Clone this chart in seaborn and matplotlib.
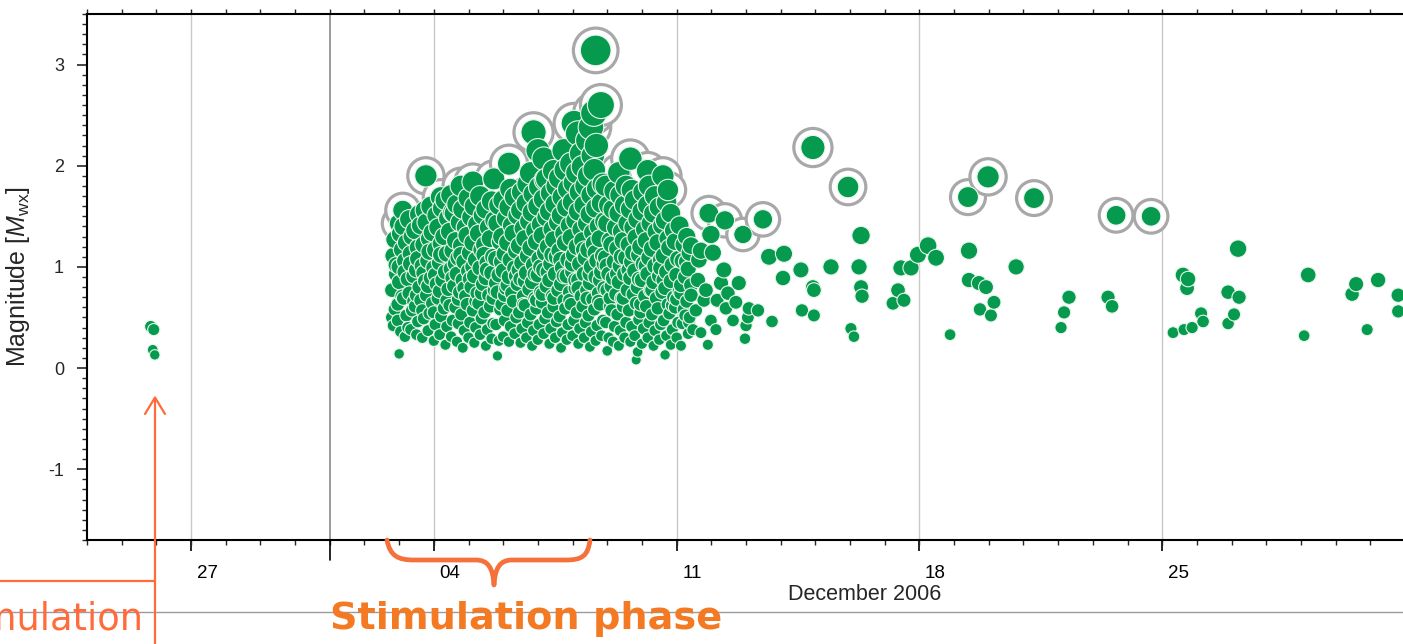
import numpy as np
import pandas as pd
import matplotlib
matplotlib.use("Agg")
import matplotlib.pyplot as plt
import matplotlib.transforms as mtransforms
from matplotlib.path import Path
from matplotlib.patches import PathPatch
from matplotlib.lines import Line2D
from matplotlib.ticker import MultipleLocator, FixedLocator
import seaborn as sns

# ---------------- data (hours since 1 Dec 2006 00:00, magnitude) ----------------
pre_events = [(-123.9, 0.41), (-121.8, 0.38), (-122.5, 0.18), (-121.1, 0.13)]

stim_events = [
    (44,0.42),(45,0.58),(43,0.77),(46,0.93),(44,1.11),(45,1.27),(43,0.50),(46,1.02),
    (48,0.14),(49,0.36),(47,0.63),(48,0.85),(50,1.17),(49,1.33),(47,0.47),(50,0.71),(48,1.00),
    (52,0.31),(53,0.52),(51,0.69),(54,0.88),(52,1.06),(53,1.24),(51,1.40),(54,0.40),(52,0.95),
    (56,0.38),(57,0.57),(55,0.74),(58,0.91),(56,1.13),(57,1.30),(55,1.47),(58,0.66),(56,1.03),
    (60,0.33),(61,0.46),(59,0.61),(62,0.80),(60,0.97),(61,1.19),(59,1.36),(62,1.52),(60,0.72),(61,1.08),
    (64,0.30),(65,0.49),(63,0.67),(66,0.86),(64,1.01),(65,1.22),(63,1.41),(66,1.56),(64,0.57),(65,0.94),
    (68,0.37),(69,0.54),(67,0.72),(70,0.89),(68,1.06),(69,1.28),(67,1.44),(70,1.60),(68,0.81),(69,1.15),
    (72,0.27),(73,0.43),(71,0.64),(74,0.83),(72,0.99),(73,1.17),(71,1.34),(74,1.51),(72,0.55),(73,0.92),
    (76,0.33),(77,0.51),(75,0.69),(78,0.87),(76,1.04),(77,1.23),(75,1.39),(78,1.58),(76,0.76),(77,1.12),
    (80,0.23),(81,0.41),(79,0.59),(82,0.78),(80,0.95),(81,1.13),(79,1.30),(82,1.48),(80,1.66),(81,0.67),
    (84,0.31),(85,0.47),(83,0.62),(86,0.81),(84,0.98),(85,1.16),(83,1.35),(86,1.53),(84,1.71),(85,0.89),
    (88,0.26),(89,0.44),(87,0.60),(90,0.75),(88,0.93),(89,1.09),(87,1.26),(90,1.44),(88,1.62),(89,0.68),(87,1.03),
    (92,0.20),(93,0.37),(91,0.53),(94,0.71),(92,0.87),(93,1.05),(91,1.21),(94,1.39),(92,1.57),(93,0.79),(91,1.12),
    (96,0.30),(97,0.45),(95,0.63),(98,0.80),(96,0.96),(97,1.14),(95,1.31),(98,1.49),(96,1.68),(97,0.88),
    (100,0.25),(101,0.40),(99,0.57),(102,0.74),(100,0.91),(101,1.07),(99,1.24),(102,1.42),(100,1.60),(101,0.66),(99,1.00),
    (104,0.33),(105,0.49),(103,0.64),(106,0.83),(104,0.99),(105,1.17),(103,1.33),(106,1.51),(104,1.70),(105,0.74),
    (108,0.22),(109,0.38),(107,0.55),(110,0.72),(108,0.89),(109,1.04),(107,1.22),(110,1.39),(108,1.57),(109,0.97),(107,1.12),
    (112,0.29),(113,0.44),(111,0.61),(114,0.77),(112,0.94),(113,1.10),(111,1.28),(114,1.46),(112,1.65),(113,0.69),
    (116,0.12),(117,0.27),(115,0.43),(118,0.58),(116,0.75),(117,0.92),(115,1.08),(118,1.25),(116,1.43),(117,1.61),(115,0.84),
    (120,0.31),(121,0.47),(119,0.63),(122,0.79),(120,0.96),(121,1.13),(119,1.30),(122,1.48),(120,1.66),(121,0.72),(119,1.05),
    (124,0.26),(125,0.41),(123,0.57),(126,0.74),(124,0.90),(125,1.07),(123,1.24),(126,1.41),(124,1.59),(125,1.77),(123,0.82),
    (128,0.34),(129,0.50),(127,0.66),(130,0.83),(128,0.99),(129,1.16),(127,1.33),(130,1.51),(128,1.69),(129,0.91),
    (132,0.25),(133,0.39),(131,0.55),(134,0.71),(132,0.88),(133,1.04),(131,1.21),(134,1.38),(132,1.56),(133,1.74),(131,0.97),(134,0.63),
    (136,0.30),(137,0.45),(135,0.62),(138,0.78),(136,0.94),(137,1.11),(135,1.28),(138,1.45),(136,1.63),(137,1.82),(135,0.86),
    (140,0.22),(141,0.37),(139,0.53),(142,0.69),(140,0.85),(141,1.02),(139,1.19),(142,1.36),(140,1.54),(141,1.72),(139,1.93),(142,0.93),
    (144,0.28),(145,0.43),(143,0.59),(146,0.75),(144,0.92),(145,1.08),(143,1.25),(146,1.42),(144,1.60),(145,1.79),(143,0.67),(146,1.00),
    (148,0.34),(149,0.49),(147,0.65),(150,0.81),(148,0.97),(149,1.14),(147,1.31),(150,1.49),(148,1.67),(149,1.86),(147,0.73),
    (152,0.24),(153,0.39),(151,0.55),(154,0.71),(152,0.87),(153,1.03),(151,1.20),(154,1.37),(152,1.55),(153,1.73),(151,0.95),(154,1.12),
    (156,0.30),(157,0.46),(155,0.61),(158,0.77),(156,0.93),(157,1.10),(155,1.27),(158,1.44),(156,1.62),(157,1.80),(155,0.69),
    (160,0.20),(161,0.35),(159,0.51),(162,0.67),(160,0.83),(161,0.99),(159,1.16),(162,1.33),(160,1.51),(161,1.69),(159,1.88),(162,0.91),(160,1.07),
    (164,0.28),(165,0.43),(163,0.59),(166,0.75),(164,0.91),(165,1.07),(163,1.24),(166,1.41),(164,1.59),(165,1.77),(163,1.96),(166,0.67),
    (168,0.32),(169,0.47),(167,0.63),(170,0.79),(168,0.95),(169,1.12),(167,1.29),(170,1.46),(168,1.64),(169,1.83),(167,2.02),(170,0.87),(168,1.03),
    (172,0.24),(173,0.39),(171,0.55),(174,0.71),(172,0.87),(173,1.03),(171,1.20),(174,1.37),(172,1.55),(173,1.74),(171,1.93),(174,2.12),(172,0.79),
    (176,0.30),(177,0.45),(175,0.61),(178,0.77),(176,0.93),(177,1.09),(175,1.26),(178,1.43),(176,1.61),(177,1.80),(175,1.99),(178,0.69),(176,1.17),
    (180,0.21),(181,0.36),(179,0.52),(182,0.68),(180,0.84),(181,1.00),(179,1.17),(182,1.34),(180,1.52),(181,1.71),(179,1.90),(182,2.10),(180,0.93),
    (184,0.27),(185,0.42),(183,0.58),(186,0.74),(184,0.90),(185,1.06),(183,1.23),(186,1.40),(184,1.58),(185,1.77),(183,1.96),(186,0.66),(184,1.14),
    (188,0.32),(189,0.47),(187,0.63),(190,0.79),(188,0.95),(189,1.11),(187,1.28),(190,1.45),(188,1.63),(189,1.82),(187,0.87),(190,1.03),
    (192,0.17),(193,0.30),(191,0.45),(194,0.61),(192,0.77),(193,0.93),(191,1.09),(194,1.26),(192,1.43),(193,1.61),(191,1.80),(194,0.69),(192,1.01),
    (196,0.26),(197,0.41),(195,0.57),(198,0.73),(196,0.89),(197,1.05),(195,1.22),(198,1.39),(196,1.57),(197,1.75),(195,0.81),
    (200,0.22),(201,0.37),(199,0.53),(202,0.69),(200,0.85),(201,1.01),(199,1.18),(202,1.35),(200,1.53),(201,1.71),(199,0.93),(202,1.10),
    (204,0.30),(205,0.45),(203,0.61),(206,0.77),(204,0.93),(205,1.09),(203,1.26),(206,1.43),(204,1.61),(205,1.80),(203,0.69),
    (208,0.26),(209,0.41),(207,0.57),(210,0.73),(208,0.89),(209,1.05),(207,1.22),(210,1.39),(208,1.57),(209,1.76),(207,0.97),(210,1.14),
    (212,0.08),(213,0.16),(211,0.32),(214,0.48),(212,0.64),(213,0.80),(211,0.96),(214,1.12),(212,1.29),(213,1.47),(211,1.66),(214,0.88),
    (216,0.24),(217,0.39),(215,0.55),(218,0.71),(216,0.87),(217,1.03),(215,1.20),(218,1.37),(216,1.55),(217,1.74),(215,0.63),
    (220,0.30),(221,0.45),(219,0.61),(222,0.77),(220,0.93),(221,1.09),(219,1.26),(222,1.43),(220,1.61),(221,1.80),(219,1.01),
    (224,0.22),(225,0.37),(223,0.53),(226,0.69),(224,0.85),(225,1.01),(223,1.18),(226,1.35),(224,1.53),(225,1.70),(223,0.77),
    (228,0.28),(229,0.43),(227,0.59),(230,0.75),(228,0.91),(229,1.07),(227,1.24),(230,1.41),(228,1.59),(229,0.99),
    (232,0.13),(233,0.32),(231,0.47),(234,0.63),(232,0.79),(233,0.95),(231,1.11),(234,1.28),(232,1.46),(233,1.64),(231,0.87),
    (236,0.23),(237,0.38),(235,0.54),(238,0.70),(236,0.86),(237,1.02),(235,1.19),(238,1.36),(236,1.53),(237,0.62),
    (240,0.30),(241,0.45),(239,0.60),(242,0.76),(240,0.92),(241,1.08),(239,1.25),(242,1.41),(240,0.68),
    (244,0.44),(245,0.58),(243,0.74),(246,0.90),(244,1.06),(245,1.22),(243,0.82),(246,0.52),
    (248,0.34),(249,0.50),(247,0.66),(250,0.82),(248,0.98),(249,1.14),(247,1.30),
    (144,2.15),(148,2.07),(162,2.15),(178.6,2.25),(184.5,2.20),(155,1.95),(171.7,2.32),(150,1.87),
]

post_events = [
    (243,0.22),(247,1.05),(248.5,0.45),(250,0.72),(250,1.21),(251.3,0.38),(253.3,0.57),(254.7,0.87),
    (255.4,1.07),(256.8,0.35),(256.8,1.16),(258.9,0.67),(260.3,0.77),(261.6,0.23),(263.7,1.32),(263.7,0.47),
    (265.1,1.14),(267.2,0.38),(268,0.67),(270.7,0.84),(272.7,0.97),(274.1,0.59),(275.5,0.74),(279,0.47),
    (281,0.65),(283,0.84),(287.3,0.29),(288,0.42),(289.3,0.50),(290,0.59),(296.3,0.57),(303.9,1.10),
    (306,0.46),(313.6,0.89),(314.3,1.13),(326,0.97),(326.7,0.57),(334.3,0.80),(335,0.77),(335,0.52),
    (346.8,1.00),(360.6,0.39),(362.7,0.31),(366.2,1.00),(367.6,1.31),(367.6,0.80),(368.3,0.71),(389.7,0.64),
    (393.2,0.77),(395.2,0.99),(397.3,0.67),(402.2,0.99),(407,1.12),(414,1.21),(419.5,1.09),(429.2,0.33),
    (442.3,1.16),(442.3,0.87),(449.2,0.84),(449.9,0.58),(454.1,0.80),(457.5,0.52),(459.6,0.65),(474.9,1.00),
    (506,0.40),(508.1,0.55),(511.5,0.70),(538.5,0.70),(541.3,0.61),(583.5,0.35),(590.4,0.92),(591.1,0.38),
    (593.2,0.79),(593.9,0.88),(596.7,0.40),(602.9,0.54),(604.3,0.46),(621.6,0.75),(621.6,0.44),(625.7,0.53),
    (628.5,1.18),(629.2,0.70),(674.2,0.32),(677,0.92),(707.4,0.73),(710.2,0.83),(717.8,0.38),(725.4,0.87),
    (739.3,0.72),(739.3,0.56),
]

# events that carry a grey ring (larger events)
ringed_events = [
    (47.8,1.43),(50.5,1.56),(66.5,1.90),(76.8,1.69),(85,1.54),(90.7,1.80),(99,1.84),(113.5,1.87),
    (124,2.02),(141,2.33),(169,2.42),(180.7,2.38),(182.7,2.52),(187.6,2.60),(184,3.14),(200,1.93),
    (208,2.07),(220,1.95),(230.5,1.90),(234,1.76),
    (262.3,1.53),(273.4,1.46),(285.9,1.32),(299.7,1.47),(334.3,2.18),(358.6,1.79),(441.6,1.69),
    (455.5,1.89),(487.3,1.68),(544.1,1.51),(568.3,1.50),
]

week_tick_days = [-4, 3, 10, 17, 24]           # 27 Nov, 04, 11, 18, 25 Dec
week_tick_labels = ["27", "04", "11", "18", "25"]
month_boundary_day = 0                          # 1 Dec
y_ticks = [-1, 0, 1, 2, 3]

# ---------------- styling ----------------
sns.set_theme(style="white")
plt.rcParams['font.family'] = ['Liberation Sans', 'DejaVu Sans']
plt.rcParams['mathtext.fontset'] = 'custom'
plt.rcParams['mathtext.rm'] = 'Liberation Sans'
plt.rcParams['mathtext.it'] = 'Liberation Sans:italic'

GREEN = '#069a4e'
EDGE = '#e8f6ec'
RING = '#a8a8a8'
ORANGE_TXT = '#f37a22'
CORAL = '#ff6b3b'

W, H = 1403, 644
fig = plt.figure(figsize=(W / 100, H / 100), dpi=100)
fig.patch.set_facecolor('white')


def fx(px):
    return px / W


def fy(py):
    return 1 - py / H


ax = fig.add_axes([fx(87), fy(540), fx(1405) - fx(87), fy(14) - fy(540)])

PX2PT = 0.72


def dot_radius_px(m):
    return 4.8 + 3.35 * np.asarray(m)


def make_df(events):
    arr = np.array(events, dtype=float)
    return pd.DataFrame({"day": arr[:, 0] / 24.0, "mag": arr[:, 1]})


dots = pd.concat([make_df(pre_events), make_df(stim_events), make_df(post_events),
                  make_df(ringed_events)], ignore_index=True)
dots = dots.sort_values("day", kind="stable").reset_index(drop=True)
dots["s"] = (2 * dot_radius_px(dots["mag"]) * PX2PT) ** 2

rings = make_df(ringed_events)
rings["s"] = (2 * (dot_radius_px(rings["mag"]) + 7.0) * PX2PT) ** 2

# grid lines
ax.set_axisbelow(True)
for d in week_tick_days:
    ax.axvline(d, color='#c8c8c8', lw=1.0, zorder=0)
ax.axvline(month_boundary_day, color='#8a8a8a', lw=1.2, zorder=0)

# rings (behind dots)
smin, smax = rings["s"].min(), rings["s"].max()
sns.scatterplot(data=rings, x="day", y="mag", size="s", sizes=(smin, smax), size_norm=(smin, smax),
                color='white', edgecolor=RING, linewidth=2.3, legend=False, ax=ax, zorder=2)

smin, smax = dots["s"].min(), dots["s"].max()
sns.scatterplot(data=dots, x="day", y="mag", size="s", sizes=(smin, smax), size_norm=(smin, smax),
                color=GREEN, edgecolor=EDGE, linewidth=0.8, legend=False, ax=ax, zorder=3)

ax.set_xlim(-7, 31)
ax.set_ylim(-1.7, 3.5)

# axes & ticks
for side in ['left', 'bottom', 'top']:
    ax.spines[side].set_visible(True)
    ax.spines[side].set_color('black')
    ax.spines[side].set_linewidth(1.5)
ax.spines['right'].set_visible(False)

ax.xaxis.set_major_locator(FixedLocator(week_tick_days))
ax.xaxis.set_minor_locator(MultipleLocator(1))
ax.xaxis.remove_overlapping_locs = False
ax.set_xticks(week_tick_days)
ax.set_xticklabels(week_tick_labels)
ax.set_yticks(y_ticks)
ax.set_yticklabels([str(v) for v in y_ticks])
ax.yaxis.set_minor_locator(MultipleLocator(0.1))

ax.tick_params(axis='x', which='major', direction='out', length=8, width=1.2, bottom=True,
               top=False, labelsize=13.5, pad=10, colors='black')
ax.tick_params(axis='x', which='minor', direction='out', length=3.6, width=1.0, bottom=True,
               top=True)
ax.tick_params(axis='y', which='major', direction='out', length=7, width=1.2, left=True,
               right=False, labelsize=13, pad=9.5)
ax.tick_params(axis='y', which='minor', direction='out', length=3.6, width=1.0, left=True,
               right=False)

offset = mtransforms.ScaledTranslation(0.16, 0, fig.dpi_scale_trans)
for tick in ax.xaxis.get_major_ticks():
    tick.label1.set_transform(tick.label1.get_transform() + offset)

# long tick at the month boundary
blend = mtransforms.blended_transform_factory(ax.transData, ax.transAxes)
ax.add_line(Line2D([month_boundary_day, month_boundary_day], [0, -20 / 526], transform=blend,
                   color='black', lw=1.2, clip_on=False))

ax.set_xlabel("December 2006", fontsize=15.5)
ax.xaxis.set_label_coords((865 - 87) / 1318, -0.083)
ax.set_ylabel(r"Magnitude [$M_\mathrm{wx}$]", fontsize=18)
ax.yaxis.set_label_coords(-0.042, 0.5)

# ---------------- annotations (figure pixel coordinates) ----------------
fig.add_artist(Line2D([fx(0), fx(W)], [fy(612), fy(612)], transform=fig.transFigure,
                      color='#9a9a9a', lw=1.0, zorder=1))

fig.add_artist(Line2D([fx(155), fx(155)], [fy(644), fy(398)], transform=fig.transFigure,
                      color=CORAL, lw=1.6, zorder=5))
fig.add_artist(Line2D([fx(145), fx(155), fx(165)], [fy(414), fy(397.5), fy(414)],
                      transform=fig.transFigure, color=CORAL, lw=1.6, zorder=5))
fig.add_artist(Line2D([fx(0), fx(155)], [fy(581), fy(581)], transform=fig.transFigure,
                      color=CORAL, lw=1.6, zorder=5))

brace_px = [(387, 540), (390, 556), (398, 560), (414, 560), (476, 560),
            (488, 560), (493, 568), (494, 585),
            (495, 568), (500, 560), (512, 560), (566, 560),
            (582, 560), (588, 556), (590, 540)]
codes = [Path.MOVETO, Path.CURVE4, Path.CURVE4, Path.CURVE4, Path.LINETO,
         Path.CURVE4, Path.CURVE4, Path.CURVE4,
         Path.CURVE4, Path.CURVE4, Path.CURVE4, Path.LINETO,
         Path.CURVE4, Path.CURVE4, Path.CURVE4]
brace = Path([(fx(a), fy(b)) for a, b in brace_px], codes)
fig.add_artist(PathPatch(brace, transform=fig.transFigure, fill=False, edgecolor='#f5703a',
                         lw=3.4, capstyle='round', joinstyle='round', zorder=5))

fig.text(fx(330), fy(629), "Stimulation phase", color=ORANGE_TXT, fontsize=27.5,
         fontweight='bold', family=['DejaVu Sans'], ha='left', va='baseline')
fig.text(fx(143), fy(629), "Pre-stimulation", color=CORAL, fontsize=26.5,
         family=['DejaVu Sans'], ha='right', va='baseline')

fig.savefig("out.png", dpi=100, facecolor='white')
